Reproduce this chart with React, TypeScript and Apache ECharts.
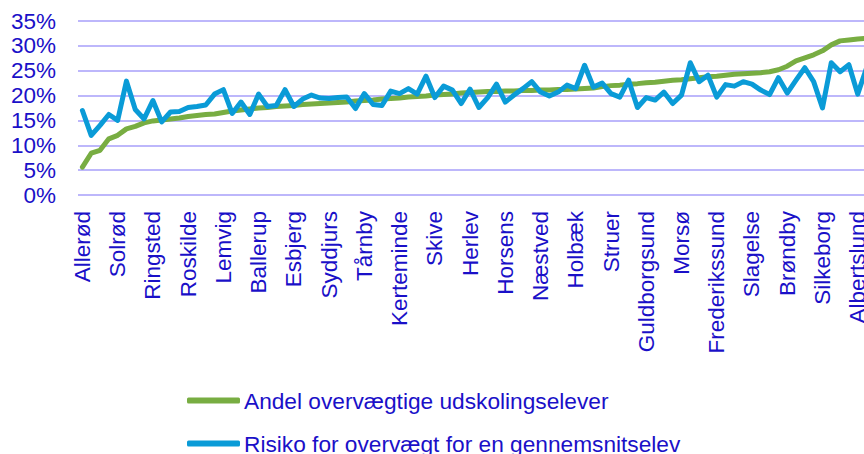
import React, { useEffect, useRef } from "react";
import * as echarts from "echarts";

const categories: string[] = [
  "Allerød", "Rudersdal", "Gentofte", "Hørsholm", "Solrød", "Lyngby-Taarbæk", "Furesø", "Frederiksberg",
  "Ringsted", "Dragør", "Egedal", "Gribskov", "Roskilde", "Fredensborg", "Hillerød", "Lejre",
  "Lemvig", "Skanderborg", "Odder", "København", "Ballerup", "Gladsaxe", "Greve", "Favrskov",
  "Esbjerg", "Aarhus", "Helsingør", "Vallensbæk", "Syddjurs", "Køge", "Billund", "Hedensted",
  "Tårnby", "Rebild", "Middelfart", "Herning", "Kerteminde", "Viborg", "Vejle", "Kolding",
  "Skive", "Ringkøbing-Skjern", "Ikast-Brande", "Glostrup", "Herlev", "Aalborg", "Fredericia", "Holstebro",
  "Horsens", "Varde", "Sorø", "Stevns", "Næstved", "Halsnæs", "Randers", "Faaborg-Midtfyn",
  "Holbæk", "Odense", "Hvidovre", "Rødovre", "Struer", "Vejen", "Nyborg", "Svendborg",
  "Guldborgsund", "Haderslev", "Sønderborg", "Thisted", "Morsø", "Faxe", "Nordfyns", "Assens",
  "Frederikssund", "Mariagerfjord", "Jammerbugt", "Hjørring", "Slagelse", "Brønderslev", "Vesthimmerland", "Aabenraa",
  "Brøndby", "Tønder", "Vordingborg", "Norddjurs", "Silkeborg", "Odsherred", "Frederikshavn", "Høje-Taastrup",
  "Albertslund", "Kalundborg", "Bornholm", "Langeland", "Ishøj", "Lolland", "Samsø", "Fanø",
  "Læsø", "Ærø",
];

const andelOvervaegtige: number[] = [
  5.6, 8.4, 9.0, 11.3, 12.0, 13.3, 13.8, 14.5, 14.9, 15.1, 15.3, 15.5, 15.8, 16.0, 16.2, 16.3,
  16.6, 16.9, 17.1, 17.3, 17.5, 17.6, 17.8, 17.9, 18.0, 18.2, 18.3, 18.4, 18.5, 18.6, 18.7, 18.9,
  19.0, 19.1, 19.3, 19.4, 19.5, 19.7, 19.8, 19.9, 20.1, 20.2, 20.3, 20.5, 20.6, 20.7, 20.8, 20.8,
  20.9, 20.9, 21.0, 21.0, 21.1, 21.1, 21.2, 21.2, 21.3, 21.4, 21.5, 21.8, 22.0, 22.1, 22.3, 22.4,
  22.6, 22.7, 22.9, 23.1, 23.2, 23.4, 23.6, 23.8, 23.9, 24.1, 24.3, 24.4, 24.5, 24.6, 24.8, 25.2,
  25.9, 27.0, 27.6, 28.2, 29.0, 30.2, 31.0, 31.2, 31.4, 31.5, 31.8, 32.1, 32.5, 33.0, 33.6, 34.2,
  35.0, 36.0,
];

const risikoGennemsnit: number[] = [
  17.0, 12.0, 14.0, 16.2, 15.0, 22.9, 17.2, 15.3, 19.0, 14.7, 16.7, 16.8, 17.6, 17.8, 18.1, 20.3,
  21.2, 16.4, 18.7, 16.2, 20.3, 17.8, 18.0, 21.2, 17.8, 19.3, 20.1, 19.5, 19.4, 19.6, 19.7, 17.4,
  20.4, 18.2, 18.0, 20.9, 20.4, 21.4, 20.3, 23.9, 19.6, 21.9, 21.1, 18.4, 21.3, 17.6, 19.6, 22.3,
  18.7, 20.1, 21.4, 22.8, 20.7, 19.9, 20.7, 22.1, 21.4, 26.1, 21.7, 22.5, 20.4, 19.7, 23.1, 17.6,
  19.6, 19.1, 20.7, 18.4, 20.1, 26.6, 22.8, 24.1, 19.7, 22.2, 21.9, 22.8, 22.3, 21.1, 20.2, 23.6,
  20.5, 23.1, 25.6, 22.8, 17.5, 26.6, 24.8, 26.2, 20.3, 25.5, 22.4, 21.6, 24.0, 23.2, 21.0, 22.7,
  19.8, 23.5,
];

const seriesNames: string[] = [
  "Andel overvægtige udskolingselever",
  "Risiko for overvægt for en gennemsnitselev",
];

const TEXT_COLOR = "#1a10c8";
const FONT = "Arial, 'Liberation Sans', sans-serif";

export default function App() {
  const ref = useRef<HTMLDivElement>(null);

  useEffect(() => {
    if (!ref.current) return;
    const chart = echarts.init(ref.current, undefined, { renderer: "svg" });
    chart.setOption({
      animation: false,
      backgroundColor: "#ffffff",
      textStyle: { fontFamily: FONT },
      grid: { left: 78, top: 21, width: 863.4, height: 174, containLabel: false },
      legend: {
        orient: "vertical",
        left: 187,
        top: 388,
        height: 120,
        itemWidth: 53,
        itemHeight: 6,
        itemGap: 18,
        icon: "roundRect",
        padding: 0,
        textStyle: { color: TEXT_COLOR, fontSize: 22.7, fontFamily: FONT, lineHeight: 25, padding: [0, 0, 0, -1] },
        data: seriesNames,
      },
      xAxis: {
        type: "category",
        data: categories,
        boundaryGap: true,
        axisLine: { show: false },
        axisTick: { show: false },
        axisLabel: {
          interval: 3,
          rotate: 90,
          margin: 16,
          color: TEXT_COLOR,
          fontSize: 22.5,
          fontFamily: FONT,
        },
        splitLine: { show: false },
      },
      yAxis: {
        type: "value",
        min: 0,
        max: 35,
        interval: 5,
        axisLine: { show: false },
        axisTick: { show: false },
        axisLabel: {
          formatter: "{value}%",
          margin: 22,
          color: TEXT_COLOR,
          fontSize: 22.5,
          fontFamily: FONT,
        },
        splitLine: { lineStyle: { color: "#bdb7fb", width: 2 } },
      },
      series: [
        {
          name: seriesNames[0],
          type: "line",
          data: andelOvervaegtige,
          symbol: "none",
          itemStyle: { color: "#78ad42" },
          lineStyle: { color: "#78ad42", width: 5, join: "round", cap: "round" },
        },
        {
          name: seriesNames[1],
          type: "line",
          data: risikoGennemsnit,
          symbol: "none",
          itemStyle: { color: "#0a9bd7" },
          lineStyle: { color: "#0a9bd7", width: 5, join: "round", cap: "round" },
        },
      ],
    });
    return () => chart.dispose();
  }, []);

  return (
    <div style={{ position: "fixed", left: 0, top: 0, width: 864, height: 454, overflow: "hidden", background: "#fff" }}>
      <div ref={ref} style={{ width: 960, height: 454 }} />
    </div>
  );
}
